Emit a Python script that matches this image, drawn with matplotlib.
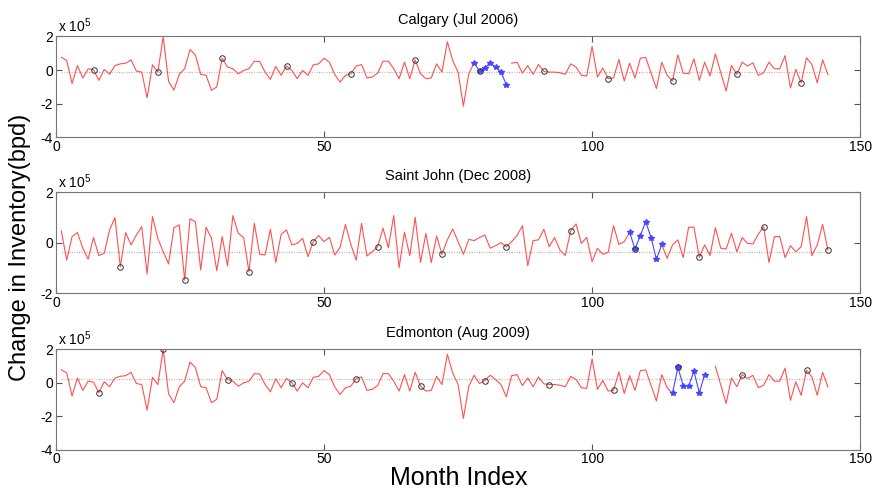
import numpy as np
import matplotlib
matplotlib.use("Agg")
import matplotlib.pyplot as plt

plt.rcParams['font.family'] = ['Liberation Sans', 'DejaVu Sans']
plt.rcParams['axes.unicode_minus'] = False
plt.rcParams['mathtext.fontset'] = 'custom'
plt.rcParams['mathtext.rm'] = 'Liberation Sans'

# monthly change in inventory, units of 1e5 bpd (Calgary / Edmonton share the series)
months = np.arange(1, 145)
west = [0.76, 0.57, -0.80, 0.27, -0.47, 0.08, 0.02, -0.61, 0.04, -0.25,
        0.27, 0.37, 0.41, 0.61, -0.06, -0.12, -1.65, 0.31, -0.12, 1.98,
        -0.67, -1.20, -0.25, 0.08, 1.22, 0.90, -0.25, -0.31, -1.20, -1.00,
        0.71, 0.18, 0.08, -0.22, -0.02, 0.08, 0.53, 0.51, -0.12, -0.55,
        0.22, -0.31, 0.24, -0.02, -0.51, -0.02, -0.31, 0.31, 0.37, 0.71,
        0.47, -0.27, -0.71, -0.31, -0.22, 0.24, 0.33, -0.47, -0.41, -0.18,
        0.53, 0.53, 0.08, -0.51, 0.47, -0.51, 0.61, -0.22, -0.51, -0.47,
        0.37, -0.12, 1.69, 0.57, -0.12, -2.14, -0.22, 0.43, -0.06, 0.12,
        0.43, 0.18, -0.12, -0.86, 0.41, 0.47, -0.18, 0.27, -0.25, 0.33,
        -0.08, -0.12, -0.12, -0.16, -0.25, 0.37, 0.18, -0.31, -0.35, 1.41,
        -0.41, 0.12, -0.51, -0.47, 0.63, -0.65, 0.41, -0.47, 0.71, 0.75,
        -0.18, -1.10, 0.47, -0.31, -0.65, 0.90, -0.18, -0.22, 0.67, -0.61,
        0.47, -0.35, 0.96, -0.15, -1.25, 0.27, -0.25, 0.47, 0.24, 0.43,
        -0.31, -0.16, 0.47, 0.08, 0.08, 0.86, -1.06, 0.04, -0.76, 0.73,
        0.33, -0.76, 0.61, -0.27]
east = [0.46, -0.69, 0.24, 0.40, -0.22, -0.65, 0.20, -0.51, -0.42, 0.50,
        0.99, -0.95, 0.40, -0.09, 0.30, 0.63, -1.24, 1.03, 0.17, -0.36,
        -0.84, 0.59, 0.70, -1.48, 0.94, 0.83, -1.08, 0.61, 0.17, -1.11,
        0.24, -0.92, 1.07, 0.37, 0.20, -1.15, 0.76, -0.46, -0.49, 0.53,
        -0.78, 0.33, 0.50, -0.09, -0.03, 0.17, -0.55, 0.04, 0.28, 0.04,
        0.21, -0.49, -0.18, 0.72, -0.07, -0.69, 0.76, -0.53, -0.36, -0.16,
        0.57, -0.20, 1.07, -0.99, 0.41, -0.51, 1.00, -0.78, 0.37, -0.79,
        0.26, -0.46, 0.11, 0.54, 0.04, -0.46, 0.13, 0.08, 0.20, 0.30,
        -0.22, -0.12, 0.00, -0.16, 0.04, 0.28, 0.67, -0.91, 0.08, 0.11,
        0.53, -0.16, 0.20, -0.29, -0.51, 0.46, 0.74, -0.03, 0.21, -0.75,
        -0.22, -0.46, -0.38, 0.67, -0.07, 0.04, 0.41, -0.25, 0.28, 0.83,
        0.20, -0.66, -0.07, -0.62, -0.09, 0.11, -0.59, 0.61, 0.61, -0.58,
        -0.09, -0.51, 0.59, -0.22, -0.25, 0.37, -0.36, 0.20, -0.03, -0.05,
        0.33, 0.63, -0.79, 0.24, 0.24, -0.59, -0.12, -0.36, -0.16, 1.03,
        -0.51, -0.09, 0.72, -0.29]

titles = ['Calgary (Jul 2006)', 'Saint John (Dec 2008)', 'Edmonton (Aug 2009)']
series = [west, east, west]
first_circle = [7, 12, 8]          # same calendar month every year
event = [(78, 84), (107, 113), (115, 121)]   # highlighted months (blue)
gap = [(79, 84), (108, 112), (116, 122)]     # months where red line is hidden
baseline = [-0.10, -0.38, 0.24]
yticks = [[-4, -2, 0, 2], [-2, 0, 2], [-4, -2, 0, 2]]
ylims = [(-4, 2), (-2, 2), (-4, 2)]

fig = plt.figure(figsize=(8.76, 4.95), dpi=100)
boxes = [[0.0639, 0.7226, 0.918, 0.2037],
         [0.0639, 0.4075, 0.918, 0.2046],
         [0.0639, 0.0919, 0.918, 0.2030]]

dot_cols = ['#ff99cc', '#9999ff', '#99dd99', '#eedd88']

for i in range(3):
    ax = fig.add_axes(boxes[i])
    y = np.array(series[i], dtype=float)
    red = y.copy()
    red[(months >= gap[i][0]) & (months <= gap[i][1])] = np.nan
    for k, c in enumerate(dot_cols):
        ax.plot([1, 144], [baseline[i]] * 2, color=c, lw=0.9,
                linestyle=(k * 2, (1, 7)))
    ax.plot(months, red, color='#ff5050', lw=0.8)
    sel = (months >= event[i][0]) & (months <= event[i][1])
    ax.plot(months[sel], y[sel], color='#4646ff', lw=0.8, marker='*',
            markersize=3.8)
    circ = months[first_circle[i] - 1::12]
    ax.plot(circ, y[circ - 1], linestyle='none', marker='o', mfc='none',
            mec='#333333', markersize=4, mew=0.7)

    ax.set_xlim(0, 150)
    ax.set_ylim(*ylims[i])
    ax.set_xticks([0, 50, 100, 150])
    ax.set_yticks(yticks[i])
    ax.tick_params(direction='in', top=True, right=True, length=4,
                   labelsize=10, color='#555555', pad=2)
    for s in ax.spines.values():
        s.set_color('#777777')
        s.set_linewidth(0.8)
    ax.set_title(titles[i], fontsize=10.5, pad=9)
    ax.text(0.002, 1.01, r'x 10$^5$', transform=ax.transAxes, fontsize=10,
            va='bottom', ha='left')

fig.text(0.023, 0.5, 'Change in Inventory(bpd)', rotation=90, fontsize=17,
         ha='center', va='center')
fig.text(0.524, 0.035, 'Month Index', fontsize=18, ha='center', va='center')

fig.savefig('out.png', dpi=100)
